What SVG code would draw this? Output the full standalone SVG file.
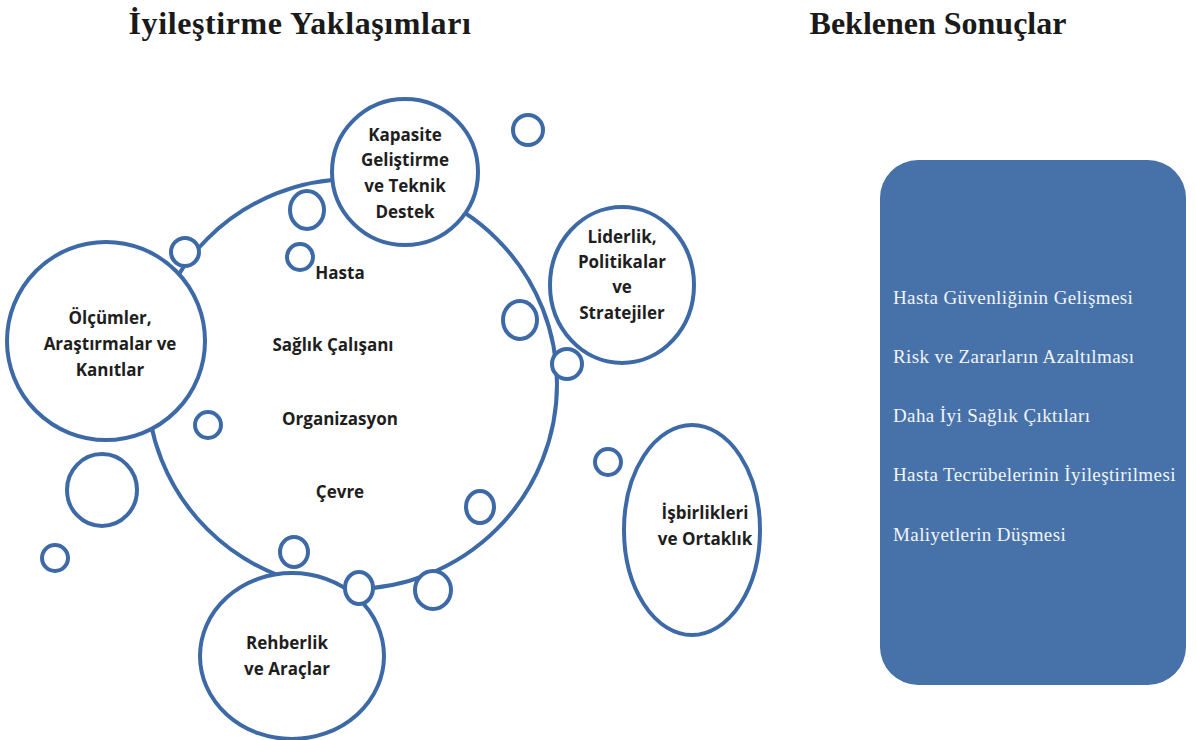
<svg xmlns="http://www.w3.org/2000/svg" width="1196" height="740" viewBox="0 0 1196 740">
<style>
.c{fill:#fff;stroke:#3d6aa6;stroke-width:4}
.t{font-family:"Open Sans","Liberation Sans",sans-serif;font-weight:bold;font-size:17px;fill:#1e1e1e;text-anchor:middle}
.h{font-family:"Liberation Serif",serif;font-weight:bold;font-size:32px;fill:#1a1a1a;text-anchor:middle}
.r{font-family:"Liberation Serif",serif;font-size:19px;letter-spacing:0.4px;fill:#f2f4f8}
</style>
<rect width="1196" height="740" fill="#fff"/>
<text class="h" x="300" y="34" letter-spacing="0.6">İyileştirme Yaklaşımları</text>
<text class="h" x="938" y="34">Beklenen Sonuçlar</text>
<g id="merkez">
<circle class="c" cx="352" cy="384" r="205"/>
<text class="t" x="340" y="279">Hasta</text>
<text class="t" x="333" y="351" font-size="16">Sağlık Çalışanı</text>
<text class="t" x="340" y="425">Organizasyon</text>
<text class="t" x="340" y="498">Çevre</text>
</g>
<g id="kapasite">
<circle class="c" cx="405" cy="172" r="73"/>
<text class="t" x="405" y="141">Kapasite</text>
<text class="t" x="405" y="166">Geliştirme</text>
<text class="t" x="405" y="192">ve Teknik</text>
<text class="t" x="405" y="218">Destek</text>
</g>
<g id="olcumler">
<circle class="c" cx="106" cy="341" r="99"/>
<text class="t" x="110" y="324">Ölçümler,</text>
<text class="t" x="110" y="350">Araştırmalar ve</text>
<text class="t" x="110" y="376">Kanıtlar</text>
</g>
<g id="liderlik">
<ellipse class="c" cx="622" cy="285" rx="72" ry="78"/>
<text class="t" x="622" y="243">Liderlik,</text>
<text class="t" x="622" y="268">Politikalar</text>
<text class="t" x="622" y="293">ve</text>
<text class="t" x="622" y="319">Stratejiler</text>
</g>
<g id="isbirlikleri">
<ellipse class="c" cx="692" cy="530" rx="68" ry="105"/>
<text class="t" x="705" y="519">İşbirlikleri</text>
<text class="t" x="705" y="545">ve Ortaklık</text>
</g>
<g id="rehberlik">
<ellipse class="c" cx="292" cy="656" rx="92" ry="83"/>
<text class="t" x="287" y="649">Rehberlik</text>
<text class="t" x="287" y="675">ve Araçlar</text>
</g>
<g id="kabarciklar">
<circle class="c" cx="528" cy="130" r="15"/>
<ellipse class="c" cx="307" cy="210" rx="17" ry="19"/>
<circle class="c" cx="185" cy="252" r="14"/>
<circle class="c" cx="300" cy="257" r="13"/>
<ellipse class="c" cx="520" cy="320" rx="17" ry="19"/>
<circle class="c" cx="567" cy="364" r="15"/>
<circle class="c" cx="208" cy="425" r="13"/>
<circle class="c" cx="608" cy="462" r="13"/>
<ellipse class="c" cx="480" cy="507" rx="14" ry="16"/>
<ellipse class="c" cx="102" cy="490" rx="35" ry="36"/>
<circle class="c" cx="55" cy="558" r="13"/>
<ellipse class="c" cx="294" cy="552" rx="14" ry="15"/>
<ellipse class="c" cx="359" cy="588" rx="14" ry="16"/>
<ellipse class="c" cx="433" cy="590" rx="18" ry="19"/>
</g>
<g id="sonuclar">
<rect x="880" y="160" width="306" height="525" rx="38" fill="#4672a9"/>
<text class="r" x="893" y="304">Hasta Güvenliğinin Gelişmesi</text>
<text class="r" x="893" y="363">Risk ve Zararların Azaltılması</text>
<text class="r" x="893" y="422">Daha İyi Sağlık Çıktıları</text>
<text class="r" x="893" y="481">Hasta Tecrübelerinin İyileştirilmesi</text>
<text class="r" x="893" y="541">Maliyetlerin Düşmesi</text>
</g>
</svg>
